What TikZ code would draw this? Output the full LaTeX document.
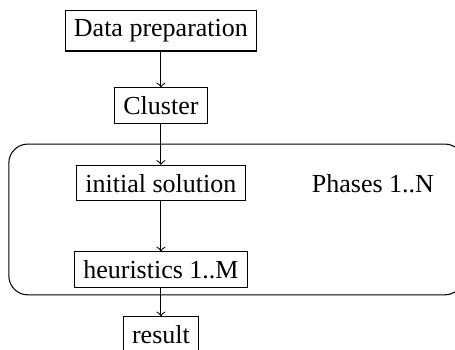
\documentclass[tikz,border=0pt]{standalone}
\usepackage{fontspec}
\setmainfont{Liberation Serif}
\usetikzlibrary{positioning,calc}
\tikzset{
	process flow/.style={
		font=\normalsize,
		flow edge/.style={->},
		phase frame/.style={
			draw,
			rounded corners=7.3pt
		}
	},
	step box/.style={
		rectangle,
		draw,
		inner sep=3.33pt
	},
	phase label/.style={
		inner sep=3.33pt
	}
}

\begin{document}
\begin{tikzpicture}[process flow]
	\useasboundingbox (-61.9pt,11.9pt) rectangle (113.1pt,-122.7pt);
	\node[step box] (data) at (0,0) {Data preparation};
	\node[step box,below=13.8pt of data] (cluster) {Cluster};
	\node[step box,below=15.7pt of cluster] (init) {initial solution};
	\node[step box,below=19.2pt of init] (heur) {heuristics 1..M};
	\node[step box,below=10.8pt of heur] (result) {result};
	\node[phase label,right=22pt of init] (phases) {Phases 1..N};

	\draw[phase frame] (-58.5pt,-43.5pt) rectangle (116.5pt,-101.5pt);

	\draw[flow edge] (data) -- (cluster);
	\draw[flow edge] (cluster) -- (init);
	\draw[flow edge] (init) -- (heur);
	\draw[flow edge] (heur) -- (result);
\end{tikzpicture}
\end{document}
